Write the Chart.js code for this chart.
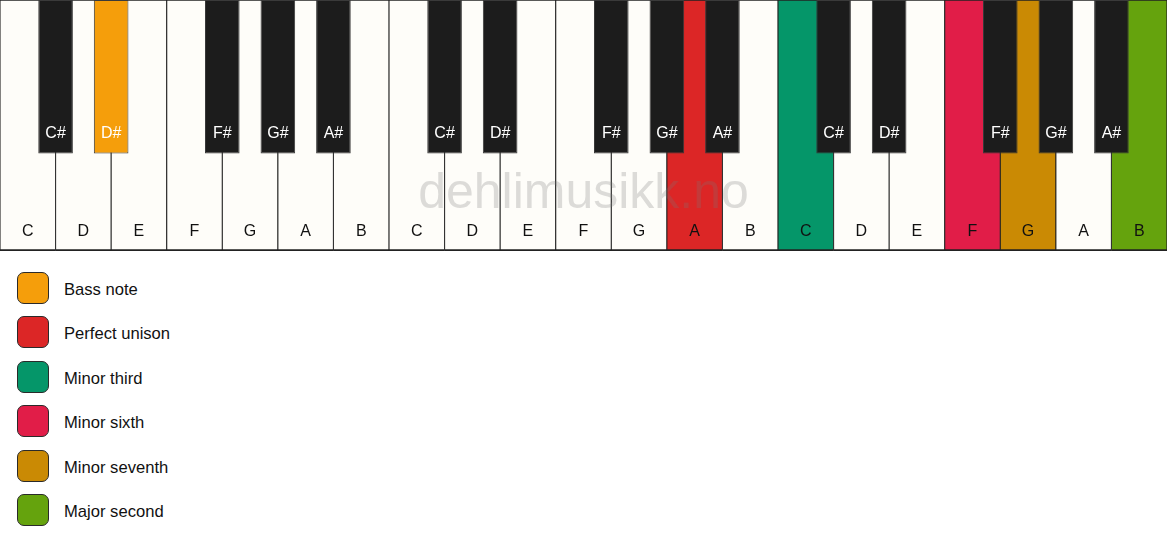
<!DOCTYPE html>
<html lang="no">
<head>
    <meta charset="UTF-8">
    <title>Piano intervals</title>
    <script src="https://cdn.jsdelivr.net/npm/chart.js"></script>
    <style>
        body {
            margin: 0;
            background: #ffffff;
            font-family: Arial, "Liberation Sans", sans-serif;
        }
        #keyboard {
            width: 1167px;
            height: 251px;
        }
        #legend {
            position: absolute;
            left: 17px;
            top: 272px;
        }
        .item {
            display: flex;
            height: 44.4px;
        }
        .box {
            width: 30px;
            height: 30px;
            border: 1.5px solid #2a2a2a;
            border-radius: 7px;
        }
        .item span {
            margin-left: 15px;
            line-height: 36px;
            font-size: 16.6px;
            color: #111;
        }
    </style>
</head>
<body>
    <div id="keyboard"><canvas id="chartCanvas" width="1167" height="251"></canvas></div>
    <div id="legend"></div>

    <script>
        // noter på tangentene, tre oktaver
        const whiteNotes = ['C', 'D', 'E', 'F', 'G', 'A', 'B'];
        const octaves = 3;
        const sharpAfter = ['C', 'D', 'F', 'G', 'A'];

        // intervaller og farger (samme rekkefølge)
        const intervalNames = ['Bass note', 'Perfect unison', 'Minor third', 'Minor sixth', 'Minor seventh', 'Major second'];
        const intervalColors = ['#F59E0B', '#DC2626', '#059669', '#E11D48', '#CA8A04', '#65A30D'];
        const intervalKeys = ['D#0', 'A1', 'C2', 'F2', 'G2', 'B2'];

        const watermark = 'dehlimusikk.no';

        const ivory = '#FEFDF9';
        const ebony = '#1C1C1C';

        // bygg tangentlistene
        const whiteKeys = [];
        const blackKeys = [];
        for (let o = 0; o < octaves; o++) {
            whiteNotes.forEach((n, i) => {
                const idx = o * whiteNotes.length + i;
                whiteKeys.push({ note: n, id: n + o, x: idx + 0.5 });
                if (sharpAfter.includes(n)) {
                    blackKeys.push({ note: n + '#', id: n + '#' + o, x: idx + 1 });
                }
            });
        }
        const totalWhite = whiteKeys.length;

        function keyColor(k, base) {
            const i = intervalKeys.indexOf(k.id);
            return i >= 0 ? intervalColors[i] : base;
        }

        const keyLabels = {
            id: 'keyLabels',
            afterDatasetsDraw(chart) {
                const ctx = chart.ctx;
                const yScale = chart.scales.y;
                ctx.save();
                ctx.font = '16px Arial, "Liberation Sans", sans-serif';
                ctx.textAlign = 'center';
                ctx.textBaseline = 'middle';
                chart.getDatasetMeta(1).data.forEach((bar, i) => {
                    ctx.fillStyle = '#111';
                    ctx.fillText(whiteKeys[i].note, bar.x, yScale.getPixelForValue(0.922));
                });
                chart.getDatasetMeta(0).data.forEach((bar, i) => {
                    ctx.fillStyle = '#ffffff';
                    ctx.fillText(blackKeys[i].note, bar.x, yScale.getPixelForValue(0.534));
                });
                // vannmerke
                ctx.font = '50px Arial, "Liberation Sans", sans-serif';
                ctx.fillStyle = 'rgba(120,120,120,0.25)';
                ctx.textBaseline = 'alphabetic';
                ctx.fillText(watermark, chart.scales.x.getPixelForValue(totalWhite / 2), yScale.getPixelForValue(0.83));
                ctx.restore();
            }
        };

        const ctx = document.getElementById('chartCanvas').getContext('2d');
        const chart = new Chart(ctx, {
            type: 'bar',
            data: {
                datasets: [
                    {
                        label: 'black',
                        xAxisID: 'xb',
                        data: blackKeys.map(k => ({ x: k.x, y: [0, 0.612] })),
                        backgroundColor: blackKeys.map(k => keyColor(k, ebony)),
                        borderColor: '#3a3a3a',
                        borderWidth: 1,
                        borderSkipped: false,
                        barPercentage: 0.623,
                        categoryPercentage: 1,
                        grouped: false,
                        order: 1
                    },
                    {
                        label: 'white',
                        xAxisID: 'x',
                        data: whiteKeys.map(k => ({ x: k.x, y: [0, 1] })),
                        backgroundColor: whiteKeys.map(k => keyColor(k, ivory)),
                        borderColor: '#222222',
                        borderWidth: { top: 1, left: 0.9, right: 0.9, bottom: 2 },
                        borderSkipped: false,
                        barPercentage: 1,
                        categoryPercentage: 1,
                        grouped: false,
                        order: 2
                    }
                ]
            },
            options: {
                responsive: false,
                animation: false,
                events: [],
                layout: { padding: 0 },
                plugins: {
                    legend: { display: false },
                    tooltip: { enabled: false }
                },
                scales: {
                    x: { type: 'linear', min: 0, max: totalWhite, offset: false, display: false },
                    xb: { type: 'linear', min: 0, max: totalWhite, offset: false, display: false },
                    y: { type: 'linear', min: 0, max: 1, reverse: true, display: false }
                }
            },
            plugins: [keyLabels]
        });

        // forklaring
        const legend = document.getElementById('legend');
        intervalNames.forEach((name, i) => {
            legend.innerHTML += `<div class="item"><div class="box" style="background:${intervalColors[i]}"></div><span>${name}</span></div>`;
        });
    </script>
</body>
</html>
